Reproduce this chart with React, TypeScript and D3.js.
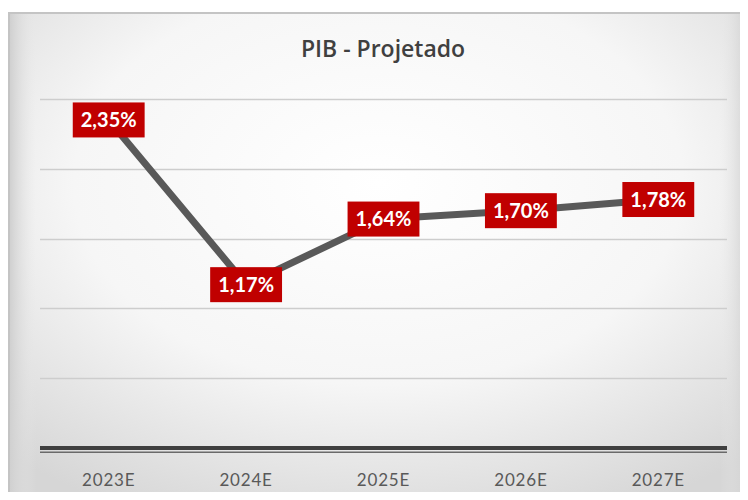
import React, { useEffect, useRef } from "react";
import * as d3 from "d3";

const categories = ["2023E", "2024E", "2025E", "2026E", "2027E"];
const values = [2.35, 1.17, 1.64, 1.7, 1.78];
const labels = ["2,35%", "1,17%", "1,64%", "1,70%", "1,78%"];
const gridTicks = [0.5, 1.0, 1.5, 2.0, 2.5];
const title = "PIB - Projetado";

export default function App() {
  const ref = useRef<SVGSVGElement>(null);
  useEffect(() => {
    const svg = d3.select(ref.current);
    svg.selectAll("*").remove();
    const W = 748, H = 500;
    const defs = svg.append("defs");
    const rg = defs.append("radialGradient").attr("id", "bg").attr("cx", "50%").attr("cy", "35%").attr("r", "75%");
    rg.append("stop").attr("offset", "0%").attr("stop-color", "#ffffff");
    rg.append("stop").attr("offset", "55%").attr("stop-color", "#f6f6f6");
    rg.append("stop").attr("offset", "100%").attr("stop-color", "#d6d6d6");
    const lg = defs.append("linearGradient").attr("id", "lside").attr("x1", "0").attr("x2", "1");
    lg.append("stop").attr("offset", "0").attr("stop-color", "#d0d0d0").attr("stop-opacity", 1);
    lg.append("stop").attr("offset", "1").attr("stop-color", "#e8e8e8").attr("stop-opacity", 0);
    const rgS = defs.append("linearGradient").attr("id", "rside").attr("x1", "1").attr("x2", "0");
    rgS.append("stop").attr("offset", "0").attr("stop-color", "#cfcfcf").attr("stop-opacity", 1);
    rgS.append("stop").attr("offset", "1").attr("stop-color", "#e8e8e8").attr("stop-opacity", 0);

    svg.append("rect").attr("x", 0).attr("y", 0).attr("width", W).attr("height", H).attr("fill", "#ffffff");
    svg.append("rect").attr("x", 9).attr("y", 13).attr("width", W - 9).attr("height", H - 13)
      .attr("fill", "url(#bg)").attr("stroke", "#c4c4c4").attr("stroke-width", 2);
    svg.append("rect").attr("x", 10).attr("y", 14).attr("width", 26).attr("height", H - 14).attr("fill", "url(#lside)");
    svg.append("rect").attr("x", W - 28).attr("y", 14).attr("width", 28).attr("height", H - 14).attr("fill", "url(#rside)");

    const x = d3.scaleBand().domain(categories).range([40, 727]);
    const y = d3.scaleLinear().domain([0, 2.5]).range([448, 99]);

    svg.append("g").selectAll("line").data(gridTicks).join("line")
      .attr("x1", 40).attr("x2", 727)
      .attr("y1", (d) => Math.round(y(d)) + 0.5).attr("y2", (d) => Math.round(y(d)) + 0.5)
      .attr("stroke", "#cdcdcd").attr("stroke-width", 1.5);

    svg.append("rect").attr("x", 40).attr("y", y(0) - 2).attr("width", 687).attr("height", 4).attr("fill", "#3f3f3f");
    svg.append("rect").attr("x", 40).attr("y", y(0) + 3.5).attr("width", 687).attr("height", 1.5).attr("fill", "#6a6a6a");

    svg.append("g").selectAll("text").data(categories).join("text")
      .attr("x", (d) => x(d)! + x.bandwidth() / 2).attr("y", 486)
      .attr("text-anchor", "middle").attr("font-family", "Lato, 'Open Sans', sans-serif")
      .attr("font-size", 17).attr("fill", "#595959").attr("letter-spacing", 0.8)
      .text((d) => d);

    svg.append("text").attr("x", 383).attr("y", 57).attr("text-anchor", "middle")
      .attr("font-family", "'Open Sans', sans-serif").attr("font-weight", 600)
      .attr("font-size", 23).attr("fill", "#404040").text(title);

    const line = d3.line<number>().x((_, i) => x(categories[i])! + x.bandwidth() / 2).y((d) => y(d));
    svg.append("path").datum(values).attr("d", line).attr("fill", "none")
      .attr("stroke", "#595959").attr("stroke-width", 7).attr("stroke-linejoin", "round");

    const lg2 = svg.append("g").selectAll("g").data(values).join("g")
      .attr("transform", (d, i) => `translate(${x(categories[i])! + x.bandwidth() / 2},${y(d)})`);
    lg2.each(function (d, i) {
      const g = d3.select(this);
      const rect = g.append("rect").attr("fill", "#c00000");
      const t = g.append("text").attr("text-anchor", "middle").attr("y", 7)
        .attr("font-family", "Lato, 'Open Sans', sans-serif").attr("font-weight", 700)
        .attr("font-size", 20).attr("fill", "#ffffff").text(labels[i]);
      const bb = (t.node() as SVGTextElement).getBBox();
      const w = bb.width + 16;
      rect.attr("x", -w / 2).attr("y", -17.5).attr("width", w).attr("height", 35);
    });
  }, []);
  return <svg ref={ref} width={748} height={500} style={{ display: "block", margin: "-8px" }} />;
}
